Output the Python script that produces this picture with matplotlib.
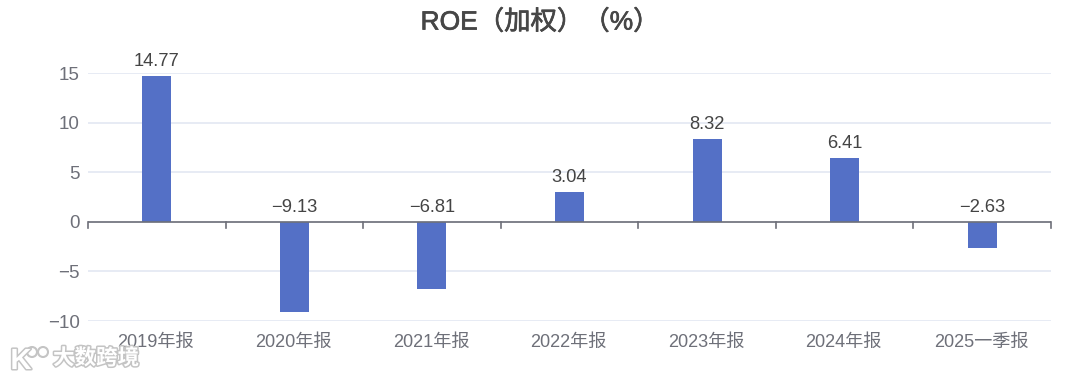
import matplotlib
matplotlib.use('Agg')
import matplotlib.pyplot as plt
import matplotlib.patheffects as pe
from matplotlib.patches import Circle

plt.rcParams['font.family'] = ['Liberation Sans', 'Noto Sans CJK SC']
plt.rcParams['axes.unicode_minus'] = True

categories = ['2019年报', '2020年报', '2021年报', '2022年报', '2023年报', '2024年报', '2025一季报']
values = [14.77, -9.13, -6.81, 3.04, 8.32, 6.41, -2.63]
yticks = [-10, -5, 0, 5, 10, 15]
title = 'ROE（加权）（%）'
watermark = '大数跨境'

W, H = 1080, 379
fig = plt.figure(figsize=(W / 100, H / 100), dpi=100, facecolor='white')
ax = fig.add_axes([88 / W, 1 - 321 / H, 963 / W, 247.7 / H])

x = list(range(len(categories)))
ax.bar(x, values, width=29 / 137.6, color='#5470c6', zorder=3)
ax.set_xlim(-0.5, len(categories) - 0.5)
ax.set_ylim(-10, 15)

ax.grid(axis='y', color='#e3e8f2', linewidth=1.2, zorder=0)
ax.set_axisbelow(True)
for s in ['top', 'right', 'left', 'bottom']:
    ax.spines[s].set_visible(False)
ax.axhline(0, color='#6e7079', linewidth=1.2, zorder=4)

ax.set_yticks(yticks)
ax.set_yticklabels([str(t).replace('-', '−') for t in yticks], fontsize=13.5, color='#6e7079')
ax.tick_params(axis='y', length=0, pad=6)

# category labels sit low, ticks hang off the zero line
ax.set_xticks([])
for i, c in enumerate(categories):
    ax.annotate(c, (i, -10), xytext=(-1, -21), textcoords='offset pixels', ha='center', va='center',
                fontsize=13.1, color='#6e7079')
for i in range(len(categories) + 1):
    ax.plot([i - 0.5, i - 0.5], [0, -0.65], color='#6e7079', linewidth=1.2, zorder=4, clip_on=False)

for i, v in enumerate(values):
    label = f'{v:.2f}'.replace('-', '−')
    ax.annotate(label, (i, max(v, 0)), xytext=(0, 6), textcoords='offset pixels', ha='center', va='bottom',
                fontsize=13.2, color='#444444')

fig.text(533 / W, 1 - 21 / H, title, ha='center', va='center', fontsize=19, color='#464646',
         path_effects=[pe.withStroke(linewidth=0.5, foreground='#464646')], position=(540 / W, 1 - 22 / H))

# watermark, bottom left
stroke = [pe.withStroke(linewidth=2.2, foreground='#c4c4c4')]
fig.text(96 / W, 1 - 359 / H, watermark, ha='center', va='center', fontsize=15.5, color='white', fontweight='bold',
         path_effects=stroke)
fig.text(21 / W, 1 - 361 / H, 'K', ha='center', va='center', fontsize=21, color='white', fontweight='bold',
         path_effects=stroke)
for cx, cy in [(32, 352), (43, 352)]:
    fig.add_artist(Circle((cx * 0.01, (H - cy) * 0.01), 0.05, transform=fig.dpi_scale_trans,
                          facecolor='white', edgecolor='#c4c4c4', linewidth=1.5))

fig.savefig('out.png', dpi=100)
